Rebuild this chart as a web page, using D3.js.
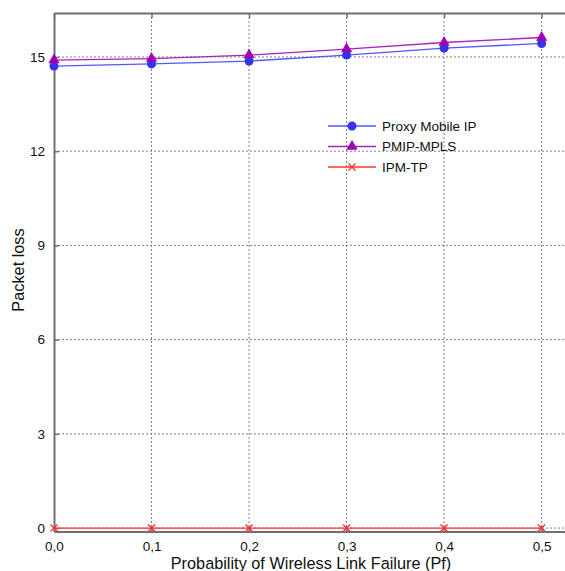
<!DOCTYPE html>
<html>
<head>
<meta charset="utf-8">
<script src="https://cdn.jsdelivr.net/npm/d3@7"></script>
<style>
  body { margin: 0; background: #fff; }
  svg { display: block; font-family: "Liberation Sans", Arial, sans-serif; }
</style>
</head>
<body>
<div id="chart"></div>
<script>
// data
const pf = [0.0, 0.1, 0.2, 0.3, 0.4, 0.5];
const proxyMobileIP = [14.71, 14.78, 14.87, 15.06, 15.28, 15.43];
const pmipMpls = [14.90, 14.95, 15.06, 15.25, 15.46, 15.62];
const ipmTp = [0, 0, 0, 0, 0, 0];
const xTicks = [0.0, 0.1, 0.2, 0.3, 0.4, 0.5];
const yTicks = [0, 3, 6, 9, 12, 15];

const width = 565, height = 571;
const margin = {top: 13, right: 0, bottom: 40, left: 54};

const series = [
	{name: "Proxy Mobile IP", values: proxyMobileIP, line: "#5555ff", mark: "#3333ee", shape: "circle"},
	{name: "PMIP-MPLS", values: pmipMpls, line: "#aa22bb", mark: "#a000b0", shape: "triangle"},
	{name: "IPM-TP", values: ipmTp, line: "#ff3333", mark: "#ff3333", shape: "cross"}
];

const x = d3.scaleLinear().domain([0, 0.525]).range([margin.left, 566]);
const y = d3.scaleLinear().domain([-0.11, 16.4]).range([531.5, margin.top]);

/* eslint-disable indent */
const svg = d3.select("#chart")
	.append("svg")
		.attr("width", width)
		.attr("height", height);

// grid
svg.append("g")
	.selectAll("line")
	.data(xTicks.slice(1))
	.join("line")
		.attr("x1", d => x(d)).attr("x2", d => x(d))
		.attr("y1", y.range()[1]).attr("y2", y.range()[0])
		.attr("stroke", "#808080")
		.attr("stroke-dasharray", "2,2");
svg.append("g")
	.selectAll("line")
	.data(yTicks)
	.join("line")
		.attr("x1", x.range()[0]).attr("x2", x.range()[1])
		.attr("y1", d => y(d)).attr("y2", d => y(d))
		.attr("stroke", "#808080")
		.attr("stroke-dasharray", "2,2");

// axes
const fmt = d => d3.format(".1f")(d).replace(".", ",");
const axisColor = "#707070";
const xAxis = svg.append("g")
	.attr("transform", `translate(0,${y.range()[0]})`)
	.call(d3.axisBottom(x).tickValues(xTicks).tickFormat(fmt).tickSizeInner(-5).tickSizeOuter(0).tickPadding(10));
const yAxis = svg.append("g")
	.attr("transform", `translate(${x.range()[0]},0)`)
	.call(d3.axisLeft(y).tickValues(yTicks).tickSizeInner(-5).tickSizeOuter(0).tickPadding(9));
const topAxis = svg.append("g")
	.attr("transform", `translate(0,${y.range()[1]})`)
	.call(d3.axisTop(x).tickValues(xTicks).tickFormat("").tickSizeInner(-5).tickSizeOuter(0));
for (const g of [xAxis, yAxis, topAxis]) {
	g.select(".domain").attr("stroke", axisColor).attr("stroke-width", 2);
	g.selectAll(".tick line").attr("stroke", axisColor).attr("stroke-width", 1.5);
	g.selectAll(".tick text").attr("fill", "#111").style("font-size", "13.5px");
}

// lines
const line = d3.line().x((d, i) => x(pf[i])).y(d => y(d));
function marker(g, shape, color) {
	if (shape === "circle") {
		g.append("circle").attr("r", 4.5).attr("fill", color);
	} else if (shape === "triangle") {
		g.append("path").attr("d", d3.symbol(d3.symbolTriangle, 55)()).attr("fill", color);
	} else {
		g.append("path").attr("d", "M-3.5,-3.5L3.5,3.5M-3.5,3.5L3.5,-3.5")
			.attr("stroke", color).attr("stroke-width", 1.4).attr("fill", "none");
	}
}
for (const s of series) {
	svg.append("path")
		.datum(s.values)
		.attr("d", line)
		.attr("fill", "none")
		.attr("stroke", s.line)
		.attr("stroke-width", 1.3);
	svg.append("g")
		.selectAll("g")
		.data(s.values)
		.join("g")
			.attr("transform", (d, i) => `translate(${x(pf[i])},${y(d)})`)
			.each(function() { marker(d3.select(this), s.shape, s.mark); });
}

// legend
const legend = svg.append("g").attr("transform", "translate(328,126)");
series.forEach((s, i) => {
	const row = legend.append("g").attr("transform", `translate(0,${i * 20.5})`);
	row.append("line").attr("x1", 0).attr("x2", 48).attr("stroke", s.line).attr("stroke-width", 1.3);
	marker(row.append("g").attr("transform", "translate(24,0)"), s.shape, s.mark);
	row.append("text").attr("x", 54).attr("dy", "0.35em").style("font-size", "13.5px").attr("fill", "#111").text(s.name);
});

// axis titles
svg.append("text")
	.attr("x", 311).attr("y", 569)
	.attr("text-anchor", "middle")
	.style("font-size", "16.3px").attr("fill", "#111")
	.text("Probability of Wireless Link Failure (Pf)");
svg.append("text")
	.attr("transform", "translate(24,270) rotate(-90)")
	.attr("text-anchor", "middle")
	.style("font-size", "16.3px").attr("fill", "#111")
	.text("Packet loss");
/* eslint-enable */
</script>
</body>
</html>
